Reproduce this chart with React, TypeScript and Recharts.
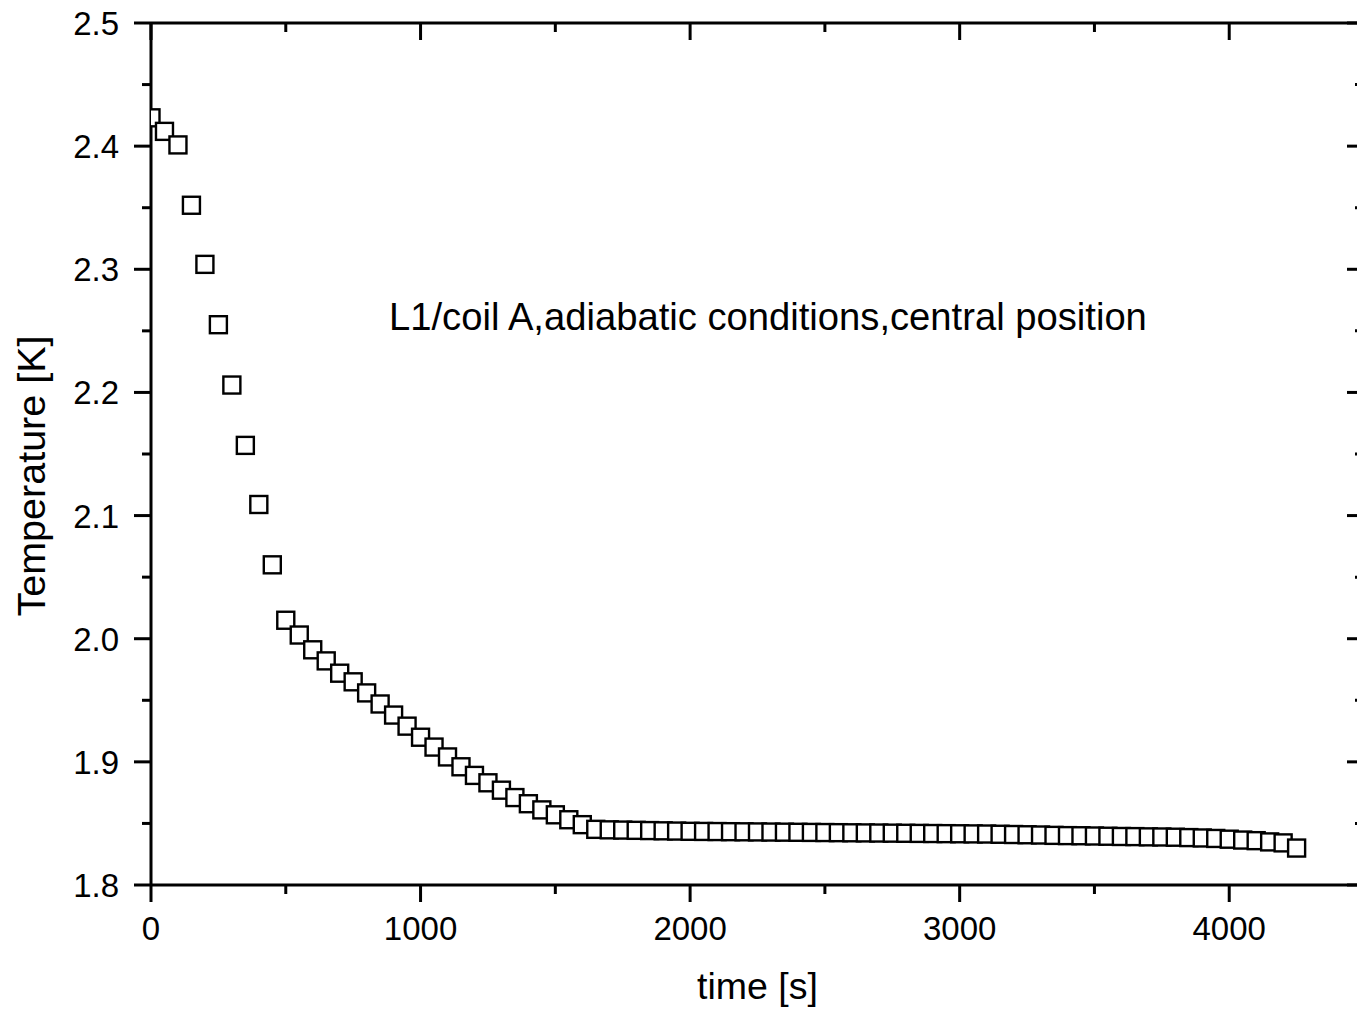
import { ScatterChart, Scatter, XAxis, YAxis } from "recharts";

const FONT = "'Liberation Sans', Arial, Helvetica, sans-serif";

// time [s]
const times = [
  0, 50, 100, 150, 200, 250, 300, 350, 400, 450, 500, 550, 600, 650, 700, 750,
  800, 850, 900, 950, 1000, 1050, 1100, 1150, 1200, 1250, 1300, 1350, 1400,
  1450, 1500, 1550, 1600, 1650, 1700, 1750, 1800, 1850, 1900, 1950, 2000,
  2050, 2100, 2150, 2200, 2250, 2300, 2350, 2400, 2450, 2500, 2550, 2600,
  2650, 2700, 2750, 2800, 2850, 2900, 2950, 3000, 3050, 3100, 3150, 3200,
  3250, 3300, 3350, 3400, 3450, 3500, 3550, 3600, 3650, 3700, 3750, 3800,
  3850, 3900, 3950, 4000, 4050, 4100, 4150, 4200, 4250,
];

// Temperature [K]
const temps = [
  2.423, 2.412, 2.401, 2.352, 2.304, 2.255, 2.206, 2.157, 2.109, 2.06, 2.015,
  2.003, 1.991, 1.982, 1.972, 1.965, 1.956, 1.947, 1.938, 1.929, 1.92, 1.912,
  1.904, 1.896, 1.889, 1.883, 1.877, 1.871, 1.866, 1.861, 1.857, 1.853, 1.849,
  1.8452, 1.8448, 1.8446, 1.8444, 1.8442, 1.844, 1.8438, 1.8436, 1.8435,
  1.8434, 1.8433, 1.8432, 1.8431, 1.843, 1.8429, 1.8428, 1.8427, 1.8426,
  1.8425, 1.8424, 1.8423, 1.8422, 1.8421, 1.842, 1.8419, 1.8418, 1.8417,
  1.8416, 1.8415, 1.8414, 1.8412, 1.841, 1.8408, 1.8406, 1.8403, 1.8401, 1.84,
  1.8398, 1.8396, 1.8394, 1.8393, 1.8391, 1.839, 1.8388, 1.8385, 1.8382,
  1.8378, 1.8372, 1.8365, 1.836, 1.835, 1.8342, 1.83,
];

const xTicks = [0, 500, 1000, 1500, 2000, 2500, 3000, 3500, 4000, 4500];
const yTicks = [
  1.8, 1.85, 1.9, 1.95, 2.0, 2.05, 2.1, 2.15, 2.2, 2.25, 2.3, 2.35, 2.4, 2.45, 2.5,
];

const xTitle = "time [s]";
const yTitle = "Temperature [K]";
const note = "L1/coil A,adiabatic conditions,central position";

const data = times.map((t, i) => ({ t, T: temps[i] }));

const MAJOR = 17;
const MINOR = 9;
const isMajorX = (v: number) => v % 1000 === 0;
const isMajorY = (v: number) => Math.abs(v * 10 - Math.round(v * 10)) < 1e-6;

const BottomTick = ({ x, y, payload }: any) => {
  const major = isMajorX(payload.value);
  return (
    <g>
      <line x1={x} x2={x} y1={y} y2={y + (major ? MAJOR : MINOR)} stroke="#000" strokeWidth={3} />
      {major && (
        <text x={x} y={y + 55} textAnchor="middle" fontSize={33} fontFamily={FONT} fill="#000">
          {payload.value}
        </text>
      )}
    </g>
  );
};

const TopTick = ({ x, y, payload }: any) => {
  const major = isMajorX(payload.value);
  return <line x1={x} x2={x} y1={y} y2={y + (major ? MAJOR : MINOR)} stroke="#000" strokeWidth={3} />;
};

const LeftTick = ({ x, y, payload }: any) => {
  const major = isMajorY(payload.value);
  return (
    <g>
      <line x1={x - (major ? MAJOR : MINOR)} x2={x} y1={y} y2={y} stroke="#000" strokeWidth={3} />
      {major && (
        <text x={x - 32} y={y + 12} textAnchor="end" fontSize={33} fontFamily={FONT} fill="#000">
          {payload.value.toFixed(1)}
        </text>
      )}
    </g>
  );
};

const RightTick = ({ x, y, payload }: any) => {
  const major = isMajorY(payload.value);
  return <line x1={x - (major ? MAJOR : MINOR)} x2={x} y1={y} y2={y} stroke="#000" strokeWidth={3} />;
};

const Square = ({ cx, cy }: any) => (
  <rect x={cx - 8.5} y={cy - 8.5} width={17} height={17} fill="#fff" stroke="#000" strokeWidth={2.4} />
);

const Nothing = () => <g />;

const axisLine = { stroke: "#000", strokeWidth: 3 };

export default function App() {
  return (
    <div
      style={{
        position: "absolute",
        left: 0,
        top: 0,
        width: 1357,
        height: 1010,
        overflow: "hidden",
        background: "#fff",
      }}
    >
      <ScatterChart width={1380} height={1010} margin={{ top: 22, right: 15, bottom: 0, left: 0 }}>
        <XAxis
          xAxisId="b"
          dataKey="t"
          type="number"
          domain={[0, 4500]}
          ticks={xTicks}
          interval={0}
          height={125}
          axisLine={axisLine}
          tickLine={false}
          tickSize={0}
          tickMargin={0}
          tick={BottomTick}
          allowDataOverflow
        />
        <XAxis
          xAxisId="t"
          dataKey="t"
          orientation="top"
          type="number"
          domain={[0, 4500]}
          ticks={xTicks}
          interval={0}
          height={1}
          axisLine={axisLine}
          tickLine={false}
          tickSize={0}
          tickMargin={0}
          tick={TopTick}
          allowDataOverflow
        />
        <YAxis
          yAxisId="l"
          dataKey="T"
          type="number"
          domain={[1.8, 2.5]}
          ticks={yTicks}
          interval={0}
          width={151}
          axisLine={axisLine}
          tickLine={false}
          tickSize={0}
          tickMargin={0}
          tick={LeftTick}
          allowDataOverflow
        />
        <YAxis
          yAxisId="r"
          dataKey="T"
          orientation="right"
          type="number"
          domain={[1.8, 2.5]}
          ticks={yTicks}
          interval={0}
          width={1}
          axisLine={axisLine}
          tickLine={false}
          tickSize={0}
          tickMargin={0}
          tick={RightTick}
          allowDataOverflow
        />
        <Scatter
          xAxisId="t"
          yAxisId="r"
          data={data}
          shape={Nothing}
          isAnimationActive={false}
        />
        <Scatter
          xAxisId="b"
          yAxisId="l"
          data={data}
          shape={Square}
          isAnimationActive={false}
        />
        <text x={389} y={330} fontSize={38.2} fontFamily={FONT} fill="#000">
          {note}
        </text>
        <text x={757.5} y={999} textAnchor="middle" fontSize={37.5} fontFamily={FONT} fill="#000">
          {xTitle}
        </text>
        <text
          x={45}
          y={476}
          transform="rotate(-90 45 476)"
          textAnchor="middle"
          fontSize={39.5}
          fontFamily={FONT}
          fill="#000"
        >
          {yTitle}
        </text>
      </ScatterChart>
    </div>
  );
}
